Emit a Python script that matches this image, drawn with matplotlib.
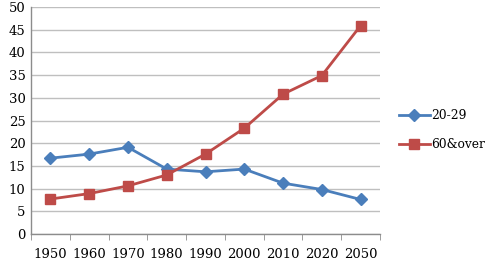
import matplotlib
matplotlib.use("Agg")
import matplotlib.pyplot as plt
import numpy as np

years = ["1950", "1960", "1970", "1980", "1990", "2000", "2010", "2020", "2050"]
age_20_29 = [16.7, 17.6, 19.1, 14.3, 13.7, 14.3, 11.2, 9.8, 7.6]
age_60_over = [7.7, 8.9, 10.6, 13.0, 17.6, 23.3, 30.8, 34.9, 45.9]
yticks = [0, 5, 10, 15, 20, 25, 30, 35, 40, 45, 50]

plt.rcParams['font.family'] = ['DejaVu Serif']

fig = plt.figure(figsize=(4.9, 2.6), dpi=100)
ax = fig.add_axes([31/490, 1-234/260, (380-31)/490, (234-7)/260])

x = np.arange(len(years))
blue = "#4a7ebb"
red = "#be4b48"
ax.plot(x, age_20_29, color=blue, lw=2.0, marker="D", ms=6.5, mec=blue, mfc=blue, label="20-29", zorder=3)
ax.plot(x, age_60_over, color=red, lw=2.0, marker="s", ms=7.5, mec=red, mfc=red, label="60&over", zorder=3)

ax.set_xlim(-0.5, len(years) - 0.5)
ax.set_ylim(0, 50)
ax.set_yticks(yticks)
ax.set_xticks(x)
ax.set_xticklabels(years)
ax.set_xticks(np.arange(-0.5, len(years)), minor=True)
ax.tick_params(axis="x", which="major", length=0, pad=10, labelsize=9.5)
ax.tick_params(axis="x", which="minor", length=4, color="#8c8c8c", direction="out")
ax.tick_params(axis="y", length=0, pad=4, labelsize=9.5)
ax.grid(axis="y", color="#bfbfbf", lw=1.0)
ax.set_axisbelow(True)
for s in ["top", "right"]:
    ax.spines[s].set_visible(False)
for s in ["left", "bottom"]:
    ax.spines[s].set_color("#8c8c8c")
    ax.spines[s].set_linewidth(1.0)

fig.legend(loc="center left", bbox_to_anchor=(399/490, 1-130/260), frameon=False,
           fontsize=8.8, handlelength=2.5, labelspacing=1.3, handletextpad=0.15,
           borderpad=0, borderaxespad=0, bbox_transform=fig.transFigure)

fig.savefig("out.png", dpi=100)
